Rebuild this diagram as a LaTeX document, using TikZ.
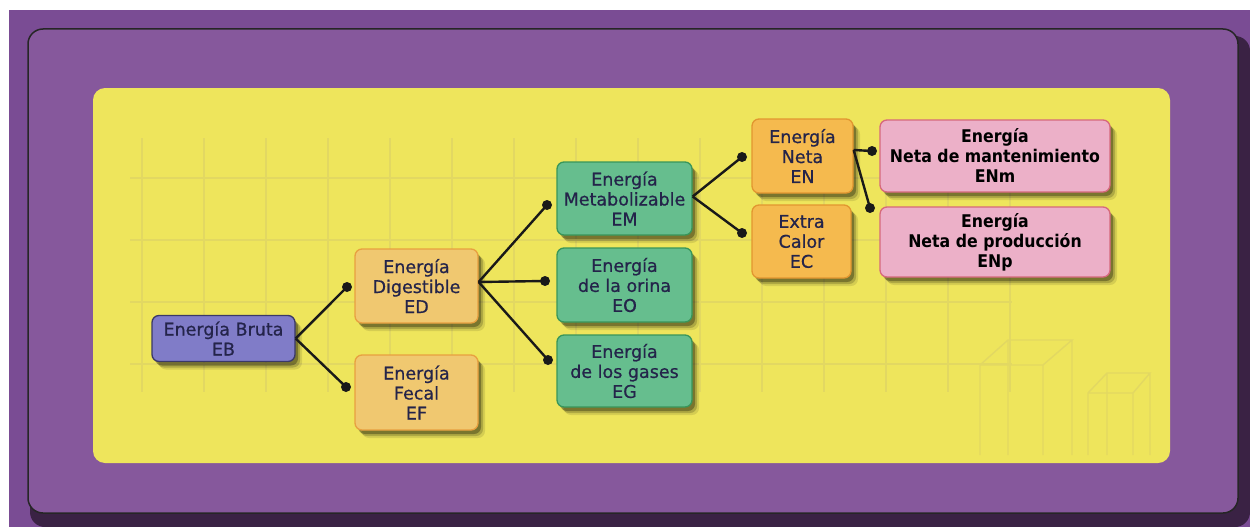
\documentclass[tikz,border=0pt]{standalone}
\usepackage{fontspec}
\setmainfont{DejaVu Sans}
\newfontfamily\boxfont{DejaVu Sans}[FakeBold=0.7]
\newfontfamily\condbold{DejaVu Sans}[FakeStretch=0.9]
\usetikzlibrary{shadows}

\definecolor{bgpurple}{RGB}{122,76,148}
\definecolor{panelpurple}{RGB}{134,88,156}
\definecolor{panelshade}{RGB}{58,34,68}
\definecolor{yellowbg}{RGB}{238,229,92}
\definecolor{gridline}{RGB}{226,216,98}
\definecolor{txt}{RGB}{36,36,74}
\definecolor{ebfill}{RGB}{128,124,200}
\definecolor{ebdraw}{RGB}{58,56,104}
\definecolor{edfill}{RGB}{240,200,112}
\definecolor{eddraw}{RGB}{232,160,64}
\definecolor{emfill}{RGB}{102,190,142}
\definecolor{emdraw}{RGB}{56,150,90}
\definecolor{enfill}{RGB}{245,186,78}
\definecolor{endraw}{RGB}{226,150,48}
\definecolor{npfill}{RGB}{236,176,200}
\definecolor{npdraw}{RGB}{214,104,124}

\tikzset{
  box/.style={rectangle, rounded corners=7, line width=1.3, align=center,
    inner sep=0pt, text=txt, font=\boxfont\fontsize{17.5}{20}\selectfont,
    drop shadow={shadow xshift=7pt, shadow yshift=-8pt, opacity=.10, fill=black},
    drop shadow={shadow xshift=5pt, shadow yshift=-6pt, opacity=.18, fill=black},
    drop shadow={shadow xshift=3pt, shadow yshift=-4pt, opacity=.3, fill=black}},
  ebbox/.style={box, fill=ebfill, draw=ebdraw},
  edbox/.style={box, fill=edfill, draw=eddraw},
  embox/.style={box, fill=emfill, draw=emdraw},
  enbox/.style={box, fill=enfill, draw=endraw},
  npbox/.style={box, fill=npfill, draw=npdraw, text=black,
    font=\condbold\bfseries\fontsize{17.5}{20}\selectfont},
  dotn/.style={circle, fill=black!90, inner sep=0pt, minimum size=10pt},
  link/.style={line width=2.4, draw=black!90},
  faint/.style={draw=gridline, line width=1.4}
}

\begin{document}
\begin{tikzpicture}[x=1pt,y=-1pt]
\useasboundingbox (0,0) rectangle (1250,527);
\fill[white] (0,0) rectangle (1250,527);

% frame
\fill[bgpurple] (9,10) rectangle (1250,527);
\fill[panelshade, rounded corners=15] (30,36) rectangle (1250,527);
\filldraw[fill=panelpurple, draw=black!85, line width=1.5, rounded corners=15]
  (28,29) rectangle (1238,513);
\fill[yellowbg, rounded corners=12] (93,88) rectangle (1170,463);

% background grid
\foreach \gx in {142,204,...,1010} \draw[faint] (\gx,138) -- (\gx,392);
\foreach \gy in {178,240,302,364} \draw[faint] (130,\gy) -- (1012,\gy);

% outline boxes
\draw[faint] (980,455) -- (980,365) -- (1043,365) -- (1043,455)
  (980,365) -- (1008,340) -- (1072,340) -- (1043,365)
  (1072,340) -- (1072,455) (1008,340) -- (1008,455);
\draw[faint] (1088,455) -- (1088,393) -- (1133,393) -- (1133,455)
  (1088,393) -- (1107,373) -- (1150,373) -- (1133,393)
  (1150,373) -- (1150,455) (1107,373) -- (1107,455);

% nodes
\node[ebbox, minimum width=143pt, minimum height=46pt] (EB) at (223.5,338.5) {Energía Bruta\\EB};
\node[edbox, minimum width=123pt, minimum height=74pt] (ED) at (416.5,286) {Energía\\Digestible\\ED};
\node[edbox, minimum width=123pt, minimum height=75pt] (EF) at (416.5,392.5) {Energía\\Fecal\\EF};
\node[embox, minimum width=135pt, minimum height=73pt] (EM) at (624.5,198.5) {Energía\\Metabolizable\\EM};
\node[embox, minimum width=135pt, minimum height=74pt] (EO) at (624.5,285) {Energía\\de la orina\\EO};
\node[embox, minimum width=135pt, minimum height=72pt] (EG) at (624.5,371) {Energía\\de los gases\\EG};
\node[enbox, minimum width=101pt, minimum height=74pt] (EN) at (802.5,156) {Energía\\Neta\\EN};
\node[enbox, minimum width=99pt, minimum height=73pt] (EC) at (801.5,241.5) {Extra\\Calor\\EC};
\node[npbox, minimum width=230pt, minimum height=72pt] (ENm) at (995,156) {Energía\\Neta de mantenimiento\\ENm};
\node[npbox, minimum width=230pt, minimum height=70pt] (ENp) at (995,242) {Energía\\Neta de producción\\ENp};

% connector end dots
\node[dotn] (dED) at (347,287) {};
\node[dotn] (dEF) at (346,387) {};
\node[dotn] (dEM) at (547,205) {};
\node[dotn] (dEO) at (545,281) {};
\node[dotn] (dEG) at (548,360) {};
\node[dotn] (dEN) at (742,157) {};
\node[dotn] (dEC) at (742,233) {};
\node[dotn] (dENm) at (872,151) {};
\node[dotn] (dENp) at (870,208) {};

\coordinate (oEB) at (EB.east);
\coordinate (oED) at ([yshift=4pt]ED.east);
\coordinate (oEM) at ([yshift=2pt]EM.east);
\coordinate (oEN) at ([yshift=6pt]EN.east);

% connectors
\draw[link] (oEB) -- (dED.center);
\draw[link] (oEB) -- (dEF.center);
\draw[link] (oED) -- (dEM.center);
\draw[link] (oED) -- (dEO.center);
\draw[link] (oED) -- (dEG.center);
\draw[link] (oEM) -- (dEN.center);
\draw[link] (oEM) -- (dEC.center);
\draw[link] (oEN) -- (dENm.center);
\draw[link] (oEN) -- (dENp.center);
\end{tikzpicture}
\end{document}
